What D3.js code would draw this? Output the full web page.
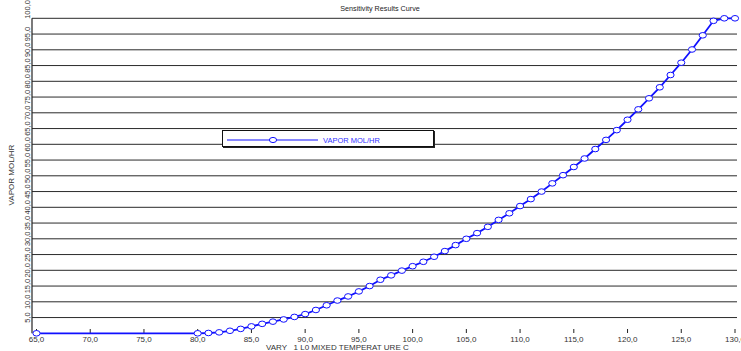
<!DOCTYPE html>
<html>
<head>
<meta charset="utf-8">
<script src="https://cdn.jsdelivr.net/npm/d3@7"></script>
<style>
  body { margin: 0; background: #fff; }
  svg { display: block; font-family: "Liberation Sans", Arial, sans-serif; }
</style>
</head>
<body>
<svg id="chart" width="741" height="351"></svg>
<script>
// sensitivity run: mixed temperature (C) vs vapor flow
var temps = [65, 80, 81, 82, 83, 84, 85, 86, 87, 88, 89, 90, 91, 92, 93, 94, 95, 96, 97, 98, 99,
             100, 101, 102, 103, 104, 105, 106, 107, 108, 109, 110, 111, 112, 113, 114, 115, 116,
             117, 118, 119, 120, 121, 122, 123, 124, 125, 126, 127, 128, 129, 130];
var vapor = [0, 0, 0.1, 0.3, 0.8, 1.4, 2.2, 3.0, 3.7, 4.4, 5.2, 6.1, 7.4, 8.9, 10.4, 11.7, 13.3, 15.0, 17.0, 18.4, 19.9,
             21.3, 22.7, 24.3, 26.1, 28.0, 30.0, 31.8, 33.8, 36.0, 38.1, 40.4, 42.6, 45.0, 47.6, 50.2, 52.8, 55.5,
             58.5, 61.4, 64.5, 67.8, 71.1, 74.6, 78.1, 82.0, 85.9, 90.1, 94.6, 99.2, 100, 100];
var xTicks = [65, 70, 75, 80, 85, 90, 95, 100, 105, 110, 115, 120, 125, 130];
var yTicks = [5, 10, 15, 20, 25, 30, 35, 40, 45, 50, 55, 60, 65, 70, 75, 80, 85, 90, 95, 100];
var title = "Sensitivity Results Curve";
var xTitle = "VARY   1 L0 MIXED TEMPERAT URE C";
var yTitle = "VAPOR MOL/HR";
var seriesName = "VAPOR MOL/HR";

var svg = d3.select("#chart");
var blue = "#1010ff";

var x = d3.scaleLinear().domain([65, 130]).range([36.5, 735]);
var y = d3.scaleLinear().domain([0, 100]).range([333.3, 18.3]);
var fmt = v => d3.format(".1f")(v).replace(".", ",");

// horizontal grid
svg.append("g")
    .selectAll("line")
    .data(yTicks)
    .enter()
    .append("line")
    .attr("x1", 32)
    .attr("x2", 737)
    .attr("y1", d => y(d))
    .attr("y2", d => y(d))
    .attr("stroke", "#2a2a2a")
    .attr("stroke-width", 1);

// y axis line
svg.append("line")
    .attr("x1", 32).attr("x2", 32)
    .attr("y1", y(100)).attr("y2", y(0))
    .attr("stroke", "#222")
    .attr("stroke-width", 1.2);

// y tick labels, rotated; the top one sits above its line
svg.append("g")
    .selectAll("text")
    .data(yTicks)
    .enter()
    .append("text")
    .attr("transform", d => "translate(30," + y(d) + ") rotate(-90)")
    .attr("text-anchor", d => d === 100 ? "start" : "middle")
    .attr("dx", d => d === 100 ? "-0.5" : "0")
    .attr("font-size", "7.5px")
    .attr("fill", "#333")
    .text(fmt);

// x ticks (no baseline)
var xt = svg.append("g");
xt.selectAll("line")
    .data(xTicks)
    .enter()
    .append("line")
    .attr("x1", d => x(d))
    .attr("x2", d => x(d))
    .attr("y1", 329)
    .attr("y2", 333)
    .attr("stroke", "#222");
xt.selectAll("text")
    .data(xTicks)
    .enter()
    .append("text")
    .attr("x", d => x(d))
    .attr("y", 341.5)
    .attr("text-anchor", "middle")
    .attr("font-size", "8px")
    .attr("fill", "#333")
    .text(fmt);

// titles
svg.append("text")
    .attr("x", 380).attr("y", 11)
    .attr("text-anchor", "middle")
    .attr("font-size", "7.2px")
    .attr("fill", "#222")
    .text(title);

svg.append("text")
    .attr("x", 266).attr("y", 350)
    .attr("font-size", "8px")
    .attr("fill", "#333")
    .style("white-space", "pre")
    .attr("xml:space", "preserve")
    .text(xTitle);

svg.append("text")
    .attr("transform", "translate(14,175) rotate(-90)")
    .attr("text-anchor", "middle")
    .attr("font-size", "8px")
    .attr("fill", "#333")
    .text(yTitle);

// series
var pts = temps.map((t, i) => ({t: t, v: vapor[i]}));
var line = d3.line().x(d => x(d.t)).y(d => y(d.v));

svg.append("path")
    .datum(pts)
    .attr("d", line)
    .attr("fill", "none")
    .attr("stroke", blue)
    .attr("stroke-width", 1.8);

svg.append("g")
    .selectAll("ellipse")
    .data(pts)
    .enter()
    .append("ellipse")
    .attr("cx", d => x(d.t))
    .attr("cy", d => y(d.v))
    .attr("rx", 3.6)
    .attr("ry", 2.8)
    .attr("fill", "#fff")
    .attr("stroke", blue)
    .attr("stroke-width", 1);

// legend
var lg = svg.append("g").attr("transform", "translate(222,130)");
lg.append("rect")
    .attr("x", 1).attr("y", 1)
    .attr("width", 212).attr("height", 17)
    .attr("fill", "#222");
lg.append("rect")
    .attr("x", 0.5).attr("y", 0.5)
    .attr("width", 211).attr("height", 16)
    .attr("fill", "#fff")
    .attr("stroke", "#111")
    .attr("stroke-width", 1);
lg.append("line")
    .attr("x1", 5).attr("x2", 96)
    .attr("y1", 10).attr("y2", 10)
    .attr("stroke", blue)
    .attr("stroke-width", 1.2);
lg.append("ellipse")
    .attr("cx", 51).attr("cy", 10)
    .attr("rx", 3.6).attr("ry", 2.6)
    .attr("fill", "#fff")
    .attr("stroke", blue);
lg.append("text")
    .attr("x", 101).attr("y", 12.5)
    .attr("font-size", "7.5px")
    .attr("fill", "#3030ff")
    .text(seriesName);
</script>
</body>
</html>
